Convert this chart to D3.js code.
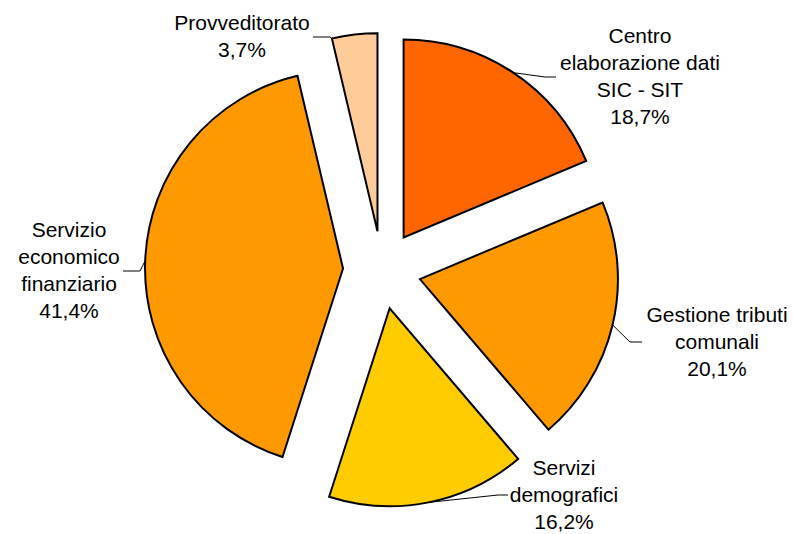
<!DOCTYPE html>
<html>
<head>
<meta charset="utf-8">
<script src="https://cdn.jsdelivr.net/npm/d3@7"></script>
<style>
  html, body { margin: 0; padding: 0; background: #fff; }
  svg { display: block; }
  text { font-family: "Liberation Sans", Arial, sans-serif; font-size: 21px; fill: #000; }
</style>
</head>
<body>
<svg id="chart" width="794" height="534"></svg>
<script>
// ---- data ----
const categories = [
  "Centro elaborazione dati SIC - SIT",
  "Gestione tributi comunali",
  "Servizi demografici",
  "Servizio economico finanziario",
  "Provveditorato"
];
const values = [18.7, 20.1, 16.2, 41.4, 3.7];
const labelLines = [
  ["Centro", "elaborazione dati", "SIC - SIT", "18,7%"],
  ["Gestione tributi", "comunali", "20,1%"],
  ["Servizi", "demografici", "16,2%"],
  ["Servizio", "economico", "finanziario", "41,4%"],
  ["Provveditorato", "3,7%"]
];
const colors = ["#FF6600", "#FF9900", "#FFCC00", "#FF9900", "#FFCC99"];

// ---- layout ----
const cx = 382, cy = 270, radius = 198, explode = 39;
const lineH = 27;
// label centre x, first baseline y, leader elbow points, anchor fraction along arc
const labelLayout = [
  { x: 640, y: 43,  elbow: [[545, 77], [556, 77]],   f: 0.5 },
  { x: 717, y: 322, elbow: [[630, 342], [642, 342]], f: 0.5 },
  { x: 564, y: 475, elbow: [[498, 495], [508, 495]], f: 0.5 },
  { x: 69,  y: 237, elbow: [[140, 271], [123, 271]], f: 0.5 },
  { x: 242, y: 30,  elbow: [[330, 37], [313, 37]],   f: 0.0 }
];

const svg = d3.select("#chart");
const pie = d3.pie().sort(null).value(d => d)(values);
const arc = d3.arc().innerRadius(0).outerRadius(radius);

const g = svg.append("g").attr("transform", `translate(${cx},${cy})`);

function offset(d) {
  const m = (d.startAngle + d.endAngle) / 2;
  return [explode * Math.sin(m), -explode * Math.cos(m)];
}

// leader lines (drawn under slices)
const leaders = svg.append("g");
pie.forEach((d, i) => {
  const [ox, oy] = offset(d);
  const L = labelLayout[i];
  const a = d.startAngle + L.f * (d.endAngle - d.startAngle);
  const sx = cx + ox + radius * Math.sin(a);
  const sy = cy + oy - radius * Math.cos(a);
  const pts = [[sx, sy]].concat(L.elbow);
  leaders.append("path")
    .attr("d", d3.line()(pts))
    .attr("fill", "none")
    .attr("stroke", "#000")
    .attr("stroke-width", 1);
});

// slices
g.selectAll("path.slice")
  .data(pie)
  .join("path")
  .attr("class", "slice")
  .attr("transform", d => { const [ox, oy] = offset(d); return `translate(${ox},${oy})`; })
  .attr("d", arc)
  .attr("fill", (d, i) => colors[i])
  .attr("stroke", "#000")
  .attr("stroke-width", 2)
  .attr("stroke-linejoin", "miter");

// labels
pie.forEach((d, i) => {
  const L = labelLayout[i];
  const t = svg.append("text").attr("text-anchor", "middle");
  labelLines[i].forEach((s, k) => {
    t.append("tspan").attr("x", L.x).attr("y", L.y + k * lineH).text(s);
  });
});
</script>
</body>
</html>
